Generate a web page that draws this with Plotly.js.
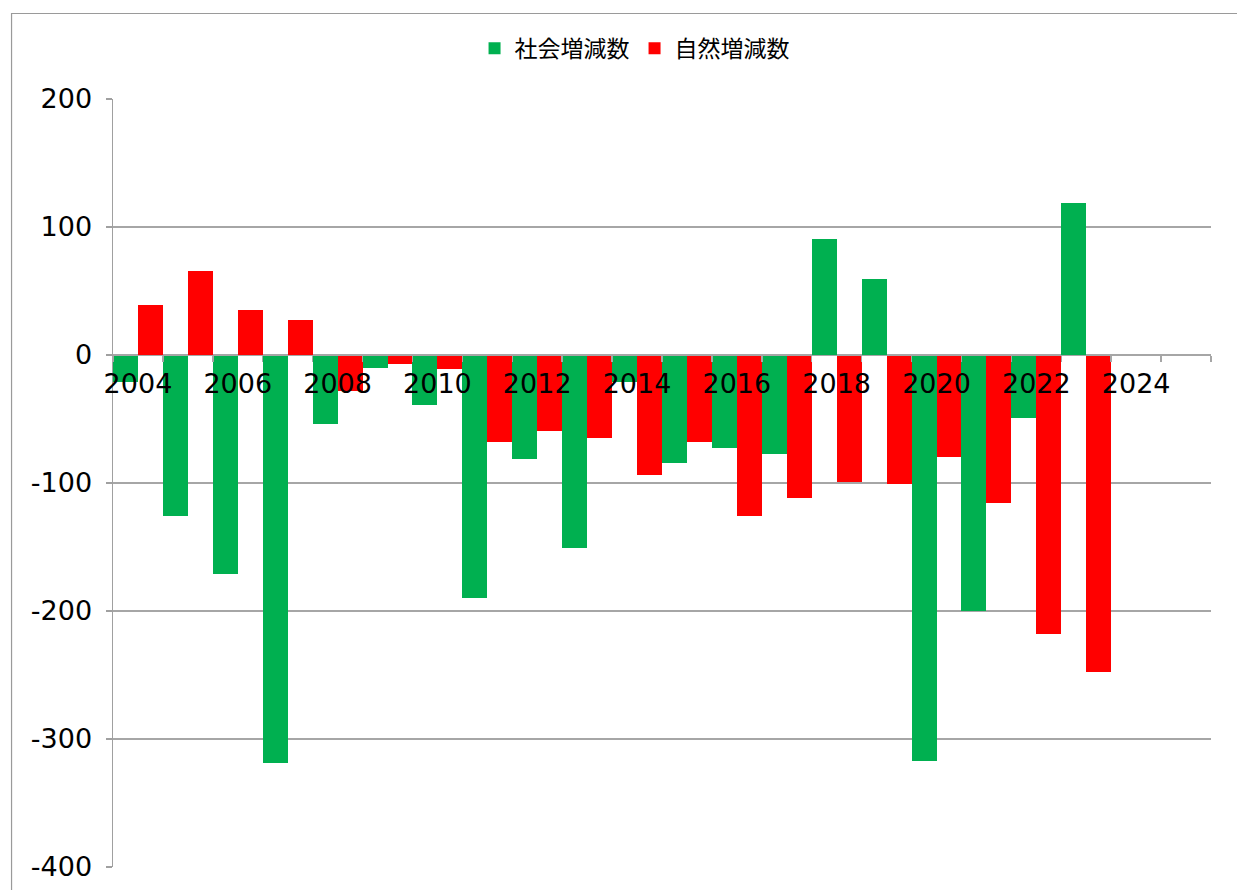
<!DOCTYPE html>
<html>
<head>
<meta charset="utf-8">
<script src="https://cdn.plot.ly/plotly-3.0.1.min.js"></script>
<style>
html,body{margin:0;padding:0;background:#fff;}
#chart{width:1237px;height:890px;}
</style>
</head>
<body>
<div id="chart"></div>
<script>
const years = [2004,2005,2006,2007,2008,2009,2010,2011,2012,2013,2014,2015,2016,2017,2018,2019,2020,2021,2022,2023];
const socialChange = [-21,-126,-171,-319,-54,-10,-39,-190,-81,-151,-21,-84,-73,-77,91,59,-317,-200,-49,119];
const naturalChange = [39,66,35,27,-28,-7,-11,-68,-59,-65,-94,-68,-126,-112,-99,-101,-80,-116,-218,-248];
const seriesNames = ['社会増減数','自然増減数'];
const yTickVals = [200,100,0,-100,-200,-300,-400];
const yTickText = ['200','100','0','-100','-200','-300','-400'];

const traces = [
  {type:'bar', name:seriesNames[0], x:years, y:socialChange, marker:{color:'#00B050', line:{width:0}}},
  {type:'bar', name:seriesNames[1], x:years, y:naturalChange, marker:{color:'#FF0000', line:{width:0}}}
];

const layout = {
  width:1237, height:890,
  margin:{l:113, r:26, t:99, b:23},
  paper_bgcolor:'#fff', plot_bgcolor:'#fff',
  barmode:'group', bargap:0, bargroupgap:0,
  font:{family:'DejaVu Sans, sans-serif', color:'#000'},
  showlegend:true,
  legend:{orientation:'h', x:0.475, xanchor:'center', y:1.066, yanchor:'middle',
          font:{family:'Noto Sans CJK JP, sans-serif', size:23, color:'#000'},
          itemwidth:30, bgcolor:'rgba(0,0,0,0)'},
  xaxis:{
    type:'linear', range:[2003.5,2025.5], tick0:2004, dtick:2,
    anchor:'free', position:0.66667,
    showline:true, linecolor:'#a6a6a6', linewidth:1.5,
    showgrid:false, zeroline:false,
    ticks:'', ticklabelstandoff:4,
    tickfont:{family:'DejaVu Sans, sans-serif', size:27, color:'#000'},
    minor:{tick0:2003.5, dtick:1, ticks:'outside', ticklen:6, tickcolor:'#a6a6a6', tickwidth:1.5, showgrid:false},
    fixedrange:true
  },
  yaxis:{
    range:[-400,200], tickvals:yTickVals, ticktext:yTickText,
    showline:true, linecolor:'#a0a0a0', linewidth:1.5,
    showgrid:true, gridcolor:'#a6a6a6', gridwidth:1.2,
    zeroline:false,
    ticks:'outside', ticklen:6, tickcolor:'#a0a0a0', tickwidth:1.5,
    ticklabelstandoff:8,
    tickfont:{family:'DejaVu Sans, sans-serif', size:27, color:'#000'},
    fixedrange:true
  },
  shapes:[
    {type:'rect', xref:'paper', yref:'paper', x0:-0.0924, x1:1.05, y0:-0.05, y1:1.1113,
     line:{color:'#9a9a9a', width:1.2}, fillcolor:'rgba(0,0,0,0)', layer:'below'}
  ]
};

Plotly.newPlot('chart', traces, layout, {displayModeBar:false, staticPlot:true});
</script>
</body>
</html>
